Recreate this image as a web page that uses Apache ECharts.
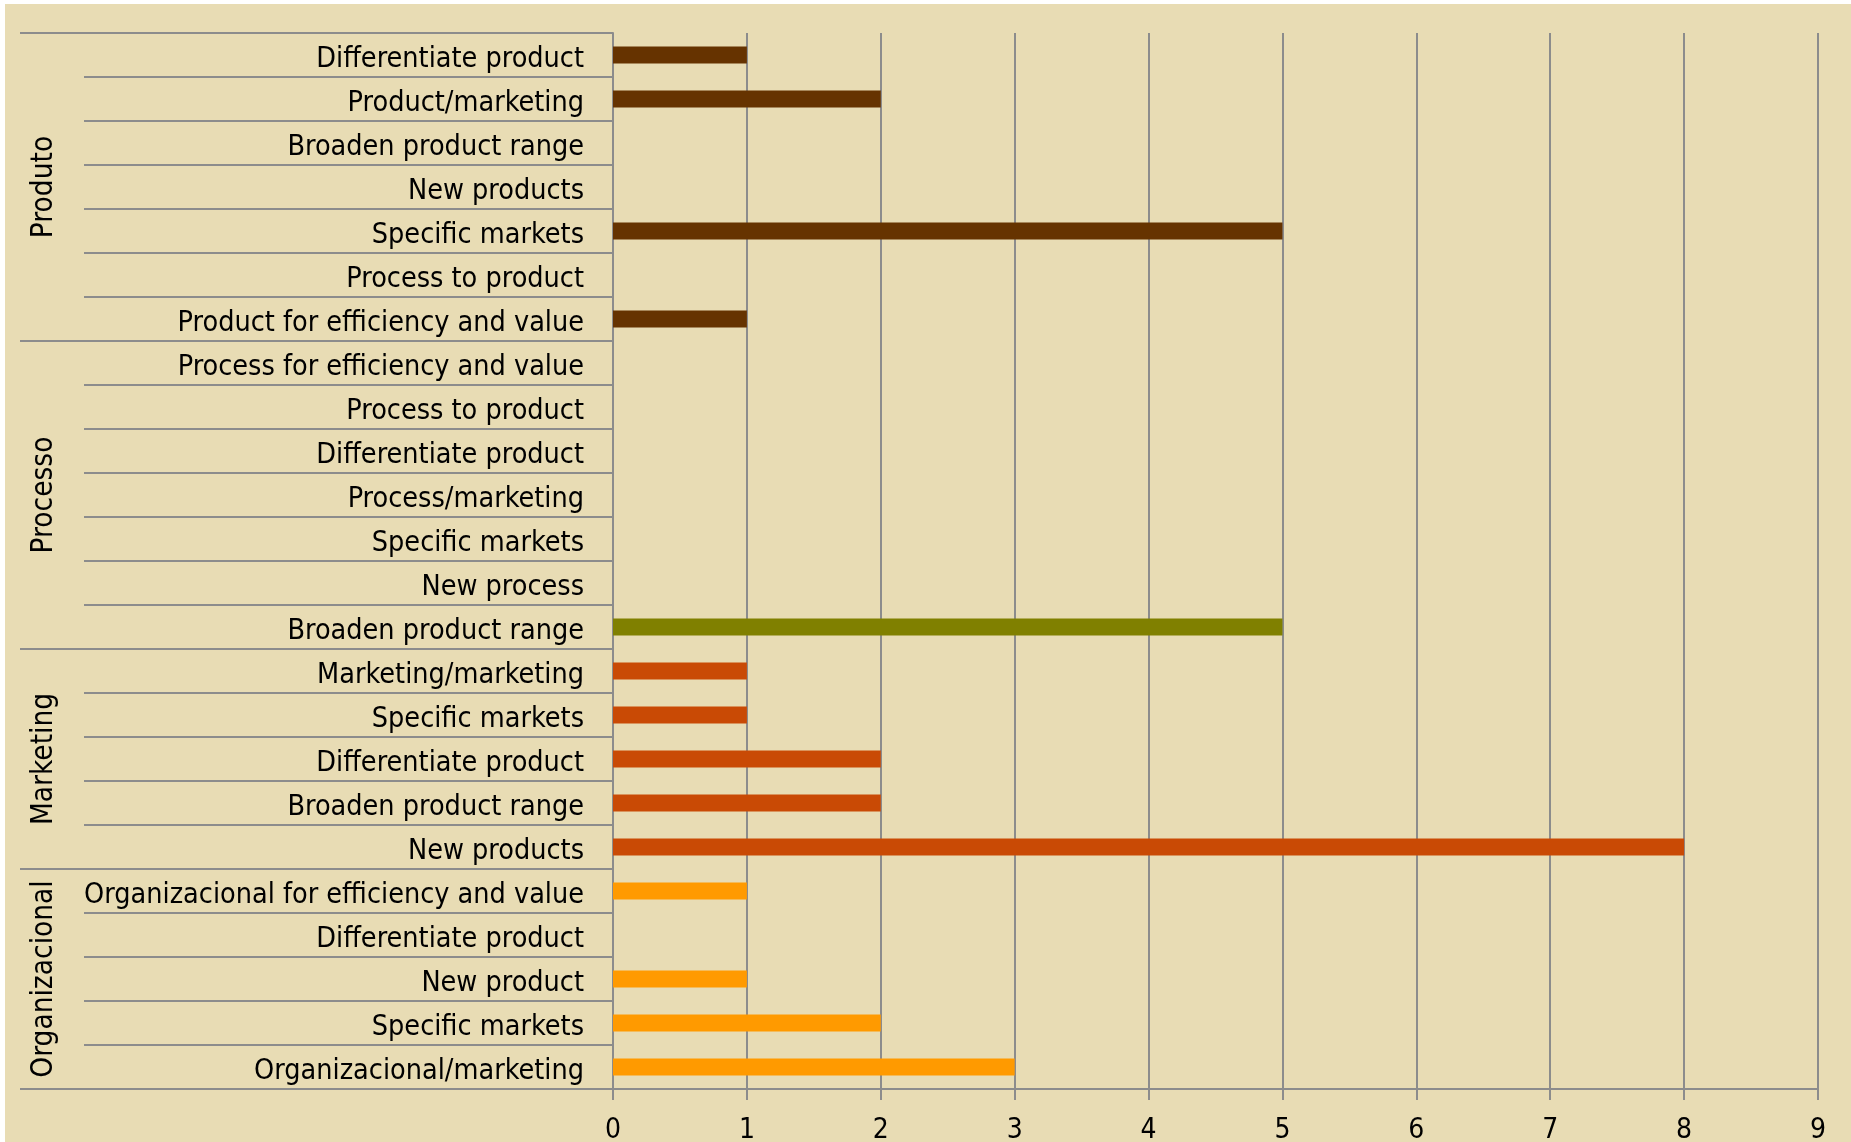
<!DOCTYPE html>
<html><head><meta charset="utf-8">
<script src="https://cdn.jsdelivr.net/npm/echarts@6/dist/echarts.min.js"></script>
<style>
html,body{margin:0;padding:0;background:#fff;width:1851px;height:1142px;overflow:hidden}
#c{position:absolute;left:5px;top:4px;width:1846px;height:1138px;background:#E8DCB4}
</style>
</head><body><div id="c"></div>
<script>
// ---- data ----
const groupNames = ['Produto', 'Processo', 'Marketing', 'Organizacional'];
const produtoLabels = ['Differentiate product', 'Product/marketing', 'Broaden product range', 'New products', 'Specific markets', 'Process to product', 'Product for efficiency and value'];
const produtoValues = [1, 2, 0, 0, 5, 0, 1];
const processoLabels = ['Process for efficiency and value', 'Process to product', 'Differentiate product', 'Process/marketing', 'Specific markets', 'New process', 'Broaden product range'];
const processoValues = [0, 0, 0, 0, 0, 0, 5];
const marketingLabels = ['Marketing/marketing', 'Specific markets', 'Differentiate product', 'Broaden product range', 'New products'];
const marketingValues = [1, 1, 2, 2, 8];
const organizacionalLabels = ['Organizacional for efficiency and value', 'Differentiate product', 'New product', 'Specific markets', 'Organizacional/marketing'];
const organizacionalValues = [1, 0, 1, 2, 3];
const xTickLabels = ['0', '1', '2', '3', '4', '5', '6', '7', '8', '9'];
const groupColors = ['#663300', '#808000', '#C94A05', '#FF9A00'];

// ---- build ----
const groupLabelLists = [produtoLabels, processoLabels, marketingLabels, organizacionalLabels];
const groupValueLists = [produtoValues, processoValues, marketingValues, organizacionalValues];
const categories = [].concat(...groupLabelLists);
const total = categories.length;
const starts = [];
let acc = 0;
groupLabelLists.forEach(l => { starts.push(acc); acc += l.length; });
const boundaries = starts.concat([total]);
const centers = starts.map((s, i) => s + groupLabelLists[i].length / 2);

const series = groupValueLists.map((vals, gi) => {
  const data = new Array(total).fill(null);
  vals.forEach((v, k) => { data[starts[gi] + k] = v; });
  return {
    type: 'bar', name: groupNames[gi], stack: 'all', data: data,
    barWidth: 17, itemStyle: { color: groupColors[gi] }, silent: true
  };
});

const FONT = '"DejaVu Sans Condensed", "DejaVu Sans", sans-serif';
const GRAY = '#8C8C8C';
const chart = echarts.init(document.getElementById('c'));
chart.setOption({
  animation: false,
  grid: { left: 608, right: 33, top: 29, bottom: 53, containLabel: false, outerBoundsMode: 'none' },
  xAxis: {
    type: 'value', min: 0, max: xTickLabels.length - 1, interval: 1,
    axisLine: { show: true, onZero: false, lineStyle: { color: GRAY, width: 2 } },
    axisTick: { show: true, length: 11, lineStyle: { color: GRAY, width: 2 } },
    splitLine: { show: true, lineStyle: { color: GRAY, width: 2 } },
    axisLabel: { margin: 28, fontSize: 28, color: '#000', fontFamily: FONT,
      formatter: v => xTickLabels[v] }
  },
  yAxis: [
    {
      type: 'category', data: categories, inverse: true, position: 'left',
      axisLine: { show: true, lineStyle: { color: GRAY, width: 2 } },
      axisTick: { show: true, interval: 0, length: 529, lineStyle: { color: GRAY, width: 2 } },
      splitLine: { show: false },
      axisLabel: { interval: 0, margin: 29, fontSize: 28.5, color: '#000', fontFamily: FONT,
        verticalAlign: 'top', lineHeight: 10 }
    },
    {
      type: 'value', min: 0, max: total, inverse: true, position: 'left',
      axisLine: { show: false, onZero: false },
      splitLine: { show: false },
      axisTick: { show: true, customValues: boundaries, length: 593, lineStyle: { color: GRAY, width: 2 } },
      axisLabel: { show: true, customValues: centers, rotate: 90, margin: 554, fontSize: 29.5, color: '#000', fontFamily: FONT,
        formatter: v => { const i = centers.indexOf(v); return i >= 0 ? groupNames[i] : ''; } }
    }
  ],
  series: series
});
</script>
</body></html>
